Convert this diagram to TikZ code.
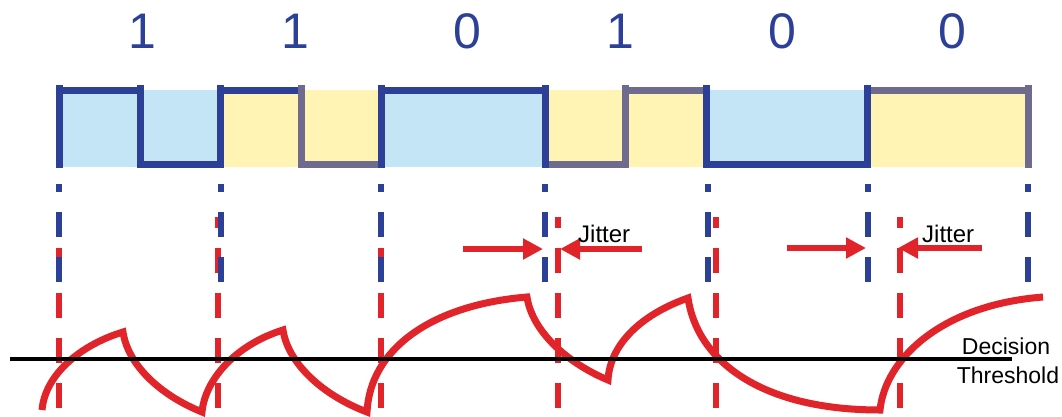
\documentclass[tikz,border=0pt]{standalone}
\usepackage{fontspec}
\setmainfont{Liberation Sans}
\usetikzlibrary{arrows.meta}
\definecolor{wireblue}{HTML}{2C4098}
\definecolor{wiregray}{HTML}{6F6B8F}
\definecolor{cellblue}{HTML}{C3E5F5}
\definecolor{cellyellow}{HTML}{FFF4B4}
\definecolor{sigred}{HTML}{E1232A}
\begin{document}
\begin{tikzpicture}[x=1pt,y=-1pt,
  bit/.style={font=\fontsize{50}{50}\selectfont, text=wireblue, anchor=base, inner sep=0pt},
  lbl/.style={font=\fontsize{23}{28}\selectfont, anchor=base, inner sep=0pt},
  jitlbl/.style={font=\fontsize{24}{28}\selectfont, anchor=base west, inner sep=0pt},
  edgeb/.style={wireblue, line width=7pt},
  edgeg/.style={wiregray, line width=7pt},
  clockline/.style={wireblue, line width=6.5pt, dash pattern=on 25pt off 20pt, dash phase=17pt},
  sampleline/.style={sigred, line width=6.5pt, dash pattern=on 25pt off 20pt, dash phase=14pt},
  rx/.style={sigred, line width=7pt, line join=miter},
  jit/.style={sigred, line width=6pt, -{Triangle[length=20pt,width=20pt]}},
  thresh/.style={black, line width=4pt},
]
\useasboundingbox (0,0) rectangle (1062,416);

% bit cells
\fill[cellblue]   (59,90)  rectangle (220,167);
\fill[cellyellow] (220,90) rectangle (381,167);
\fill[cellblue]   (381,90) rectangle (545,167);
\fill[cellyellow] (545,90) rectangle (706,167);
\fill[cellblue]   (706,90) rectangle (867,167);
\fill[cellyellow] (867,90) rectangle (1028,167);

% transmitted waveform
\draw[edgeb] (59,90) -- (140,90);
\draw[edgeb] (140,164) -- (220,164);
\draw[edgeb] (220,90) -- (301,90);
\draw[edgeg] (301,164) -- (381,164);
\draw[edgeb] (381,90) -- (545,90);
\draw[edgeg] (545,164) -- (625,164);
\draw[edgeg] (625,90) -- (706,90);
\draw[edgeb] (706,164) -- (867,164);
\draw[edgeg] (867,90) -- (1028,90);
\draw[edgeb] (59,85) -- (59,168);
\draw[edgeb] (140,85) -- (140,168);
\draw[edgeb] (220,85) -- (220,168);
\draw[edgeg] (301,85) -- (301,168);
\draw[edgeb] (381,85) -- (381,168);
\draw[edgeb] (545,85) -- (545,168);
\draw[edgeg] (625,85) -- (625,168);
\draw[edgeb] (706,85) -- (706,168);
\draw[edgeb] (867,85) -- (867,168);
\draw[edgeg] (1028,85) -- (1028,168);

% bit values
\node[bit] (b1) at (142,48) {1};
\node[bit] (b2) at (295,48) {1};
\node[bit] (b3) at (467,48) {0};
\node[bit] (b4) at (620,48) {1};
\node[bit] (b5) at (782,48) {0};
\node[bit] (b6) at (952,48) {0};

% recovered sampling instants
\foreach \x in {59,218,381,558,716,900}
  \draw[sampleline] (\x,217) -- (\x,408);
% ideal clock edges
\foreach \x in {59,221,381,545,708,868,1028}
  \draw[clockline] (\x,184) -- (\x,282);

% received signal
\draw[rx] (42,410) .. controls (45,375) and (80,345) .. (123,332)
  .. controls (128,365) and (160,395) .. (202,412)
  .. controls (205,380) and (235,345) .. (283,330)
  .. controls (288,363) and (322,395) .. (367,412)
  .. controls (370,350) and (430,305) .. (527,297)
  .. controls (532,330) and (565,362) .. (608,380)
  .. controls (610,345) and (640,315) .. (688,298)
  .. controls (697,360) and (760,410) .. (880,410)
  .. controls (885,360) and (940,305) .. (1043,297);

% decision threshold
\coordinate (th0) at (10,359);
\coordinate (th1) at (1012,359);
\draw[thresh] (th0) -- (th1);
\node[lbl] (dec) at (1006,354) {Decision};
\node[lbl] (thr) at (1008,383) {Threshold};

% jitter markers
\coordinate (ja0) at (463,249);
\coordinate (ja1) at (543,249);
\coordinate (jb0) at (642,249);
\coordinate (jb1) at (560,249);
\draw[jit] (ja0) -- (ja1);
\draw[jit] (jb0) -- (jb1);
\node[jitlbl] (jit1) at (578,242) {Jitter};

\coordinate (jc0) at (787,248);
\coordinate (jc1) at (866,248);
\coordinate (jd0) at (982,248);
\coordinate (jd1) at (898,248);
\draw[jit] (jc0) -- (jc1);
\draw[jit] (jd0) -- (jd1);
\node[jitlbl] (jit2) at (922,242) {Jitter};
\end{tikzpicture}
\end{document}
